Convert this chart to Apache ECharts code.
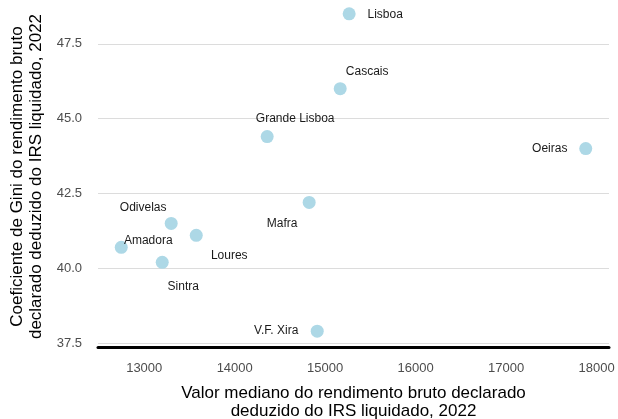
<!DOCTYPE html>
<html>
<head>
<meta charset="utf-8">
<script src="https://cdn.jsdelivr.net/npm/echarts@6/dist/echarts.min.js"></script>
<style>
html,body{margin:0;padding:0;background:#fff;}
#chart{width:618px;height:419px;}
</style>
</head>
<body>
<div id="chart"></div>
<script>
// Data
const municipios = ['Lisboa', 'Cascais', 'Grande Lisboa', 'Oeiras', 'Mafra', 'Odivelas', 'Loures', 'Amadora', 'Sintra', 'V.F. Xira'];
const medianoRendimento = [15265, 15166, 14359, 17880, 14823, 13298, 13575, 12746, 13199, 14912];
const coefGini = [48.5, 46.0, 44.4, 44.0, 42.2, 41.5, 41.1, 40.7, 40.2, 37.9];
const xTicks = [13000, 14000, 15000, 16000, 17000, 18000];
const yTicks = [37.5, 40.0, 42.5, 45.0, 47.5];

// Label placement (style only, relative to each point)
const labelOffsets = {
  'Lisboa': [36, 1],
  'Cascais': [27, -17],
  'Grande Lisboa': [28, -18],
  'Oeiras': [-36, 0],
  'Mafra': [-27, 21],
  'Odivelas': [-28, -16],
  'Loures': [33, 20],
  'Amadora': [27, -7],
  'Sintra': [21, 24],
  'V.F. Xira': [-41, 0]
};

const FONT = 'Liberation Sans, Arial, sans-serif';

const seriesData = municipios.map((m, i) => ({
  value: [medianoRendimento[i], coefGini[i]],
  name: m,
  label: { offset: labelOffsets[m] }
}));

const chart = echarts.init(document.getElementById('chart'), null, { renderer: 'canvas' });
chart.setOption({
  backgroundColor: '#ffffff',
  animation: false,
  grid: { left: 98, right: 9, top: -2, bottom: 72, containLabel: false, outerBoundsMode: 'none' },
  xAxis: {
    type: 'value',
    min: 12489,
    max: 18137,
    name: 'Valor mediano do rendimento bruto declarado\ndeduzido do IRS liquidado, 2022',
    nameLocation: 'middle',
    nameGap: 37,
    nameTextStyle: { fontFamily: FONT, fontSize: 17, color: '#000', lineHeight: 18 },
    axisLine: { show: true, onZero: false, lineStyle: { color: '#000', width: 3 } },
    axisTick: { show: false, customValues: xTicks },
    axisLabel: { customValues: xTicks, fontFamily: FONT, fontSize: 13, color: '#4d4d4d', margin: 15,
      formatter: v => String(v) },
    splitLine: { show: false }
  },
  yAxis: {
    type: 'value',
    min: 37.37,
    max: 49.03,
    name: 'Coeficiente de Gini do rendimento bruto\ndeclarado deduzido do IRS liquidado, 2022',
    nameLocation: 'middle',
    nameRotate: 90,
    nameGap: 44,
    nameTextStyle: { fontFamily: FONT, fontSize: 17, color: '#000', lineHeight: 19, padding: [0, 8, 0, 0] },
    axisLine: { show: false },
    axisTick: { show: false, customValues: yTicks },
    axisLabel: { customValues: yTicks, fontFamily: FONT, fontSize: 13, color: '#4d4d4d', margin: 16,
      formatter: v => Number(v).toFixed(1) },
    splitLine: { show: true, lineStyle: { color: '#dcdcdc', width: 1 } }
  },
  series: [{
    type: 'scatter',
    symbolSize: 13,
    itemStyle: { color: '#add8e6', opacity: 1 },
    label: {
      show: true,
      position: 'inside',
      formatter: p => p.name,
      fontFamily: FONT,
      fontSize: 12,
      color: '#1a1a1a'
    },
    data: seriesData
  }]
});
</script>
</body>
</html>
